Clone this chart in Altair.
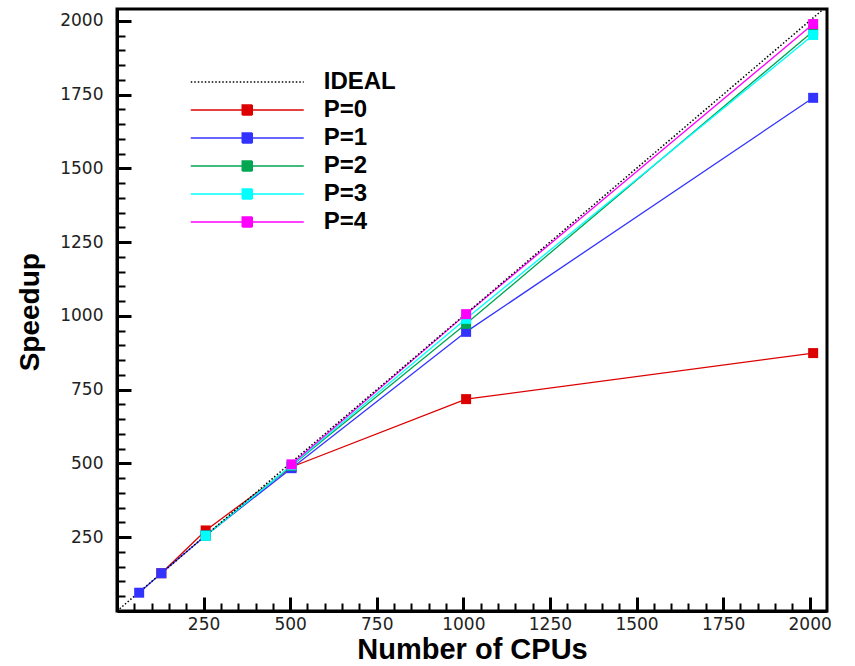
import altair as alt
import pandas as pd

# ---- data ----
series_names = ["IDEAL", "P=0", "P=1", "P=2", "P=3", "P=4"]
series_colors = ["#000000", "#dd0000", "#3333ff", "#00a651", "#00ffff", "#ff00ff"]

ideal_cpus = [0, 2050]
ideal_speedup = [0, 2050]

p0_cpus = [128, 256, 504, 1008, 2010]
p0_speedup = [128, 273, 488, 718, 874]
p1_cpus = [64, 128, 256, 504, 1008, 2010]
p1_speedup = [62, 128, 256, 484, 946, 1739]
p2_cpus = [256, 504, 1008, 2010]
p2_speedup = [256, 492, 973, 1965]
p3_cpus = [256, 504, 1008, 2010]
p3_speedup = [255, 494, 990, 1952]
p4_cpus = [504, 1008, 2010]
p4_speedup = [497, 1006, 1989]

tick_values = [50, 100, 150, 200, 250, 300, 350, 400, 450, 500, 550, 600, 650, 700,
               750, 800, 850, 900, 950, 1000, 1050, 1100, 1150, 1200, 1250, 1300,
               1350, 1400, 1450, 1500, 1550, 1600, 1650, 1700, 1750, 1800, 1850,
               1900, 1950, 2000]

x_domain = [0, 2050]
y_domain = [0, 2040]

# ---- tables ----
rows = []
for name, xv_list, yv_list in [("P=0", p0_cpus, p0_speedup), ("P=1", p1_cpus, p1_speedup),
                               ("P=2", p2_cpus, p2_speedup), ("P=3", p3_cpus, p3_speedup),
                               ("P=4", p4_cpus, p4_speedup)]:
    for xv, yv in zip(xv_list, yv_list):
        rows.append({"series": name, "cpus": xv, "speedup": yv})
df = pd.DataFrame(rows)
df_ideal = pd.DataFrame({"series": "IDEAL", "cpus": ideal_cpus, "speedup": ideal_speedup})

color_scale = alt.Scale(domain=series_names, range=series_colors)
xs = alt.Scale(domain=x_domain, nice=False, zero=False)
ys = alt.Scale(domain=y_domain, nice=False, zero=False)

major = "datum.value % 250 === 0"

x_axis = alt.Axis(
    orient="bottom", values=tick_values, format="d", grid=False,
    tickSize=alt.ExprRef(expr=f"{major} ? -14 : -8"),
    tickWidth=alt.ExprRef(expr=f"{major} ? 3 : 2"),
    tickColor="black",
    labelExpr=f"{major} ? datum.label : ''",
    labelPadding=19, labelFont="DejaVu Sans", labelFontSize=17, labelColor="#222",
    labelOverlap=False, labelFlush=False,
    domainColor="black", domainWidth=3,
    title="Number of CPUs", titleFont="Liberation Sans", titleFontSize=29,
    titleFontWeight="bold", titleColor="black",
    titleX=355, titleY=47, titleBaseline="alphabetic", titleAlign="center",
)
y_axis = alt.Axis(
    orient="left", values=tick_values, format="d", grid=False,
    tickSize=alt.ExprRef(expr=f"{major} ? -14 : -8"),
    tickWidth=alt.ExprRef(expr=f"{major} ? 3 : 2"),
    tickColor="black",
    labelExpr=f"{major} ? datum.label : ''",
    labelPadding=28, labelFont="DejaVu Sans", labelFontSize=17, labelColor="#222",
    labelOverlap=False, labelFlush=False,
    domainColor="black", domainWidth=3,
    title="Speedup", titleFont="Liberation Sans", titleFontSize=28,
    titleFontWeight="bold", titleColor="black",
    titleX=-78.5, titleY=302.7, titleAngle=270, titleBaseline="alphabetic",
    titleAlign="center",
)

legend = alt.Legend(
    title=None, orient="none", legendX=118.25, legendY=61, padding=0,
    symbolSize=256, symbolStrokeWidth=1.5,
    symbolType=alt.ExprRef(expr="datum.value === 'IDEAL' ? 'M-7.06,0L7.06,0' : 'M-7.06,0L7.06,0M-0.625,-0.625h1.25v1.25h-1.25Z'"),
    symbolFillColor=alt.ExprRef(expr="scale('color', datum.value)"),
    symbolDash=alt.ExprRef(expr="datum.value === 'IDEAL' ? [1.5, 2] : [1, 0]"),
    labelFont="Liberation Sans", labelFontSize=24, labelFontWeight="bold",
    labelColor="black", labelOffset=64.5, rowPadding=4, labelLimit=0,
)

x_enc = alt.X("cpus:Q", scale=xs, axis=x_axis)
y_enc = alt.Y("speedup:Q", scale=ys, axis=y_axis)

lines = alt.Chart(df).mark_line(strokeWidth=1.3).encode(
    x=x_enc, y=y_enc,
    color=alt.Color("series:N", scale=color_scale, legend=legend),
)

ideal = alt.Chart(df_ideal).mark_line(strokeDash=[1.5, 2], strokeWidth=1.5, clip=True).encode(
    x=x_enc, y=y_enc,
    color=alt.Color("series:N", scale=color_scale, legend=None),
)

points = alt.Chart(df).mark_square(size=100, filled=True, opacity=1).encode(
    x=x_enc, y=y_enc,
    color=alt.Color("series:N", scale=color_scale, legend=None),
)

chart = alt.layer(lines, ideal, points).properties(
    width=710, height=602,
    autosize=alt.AutoSizeParams(type="none"),
    padding={"left": 117, "top": 9, "right": 28, "bottom": 55},
    background="white",
).configure_view(stroke="black", strokeWidth=3)

chart.save("out.html", embed_options={"renderer": "svg", "actions": False})
